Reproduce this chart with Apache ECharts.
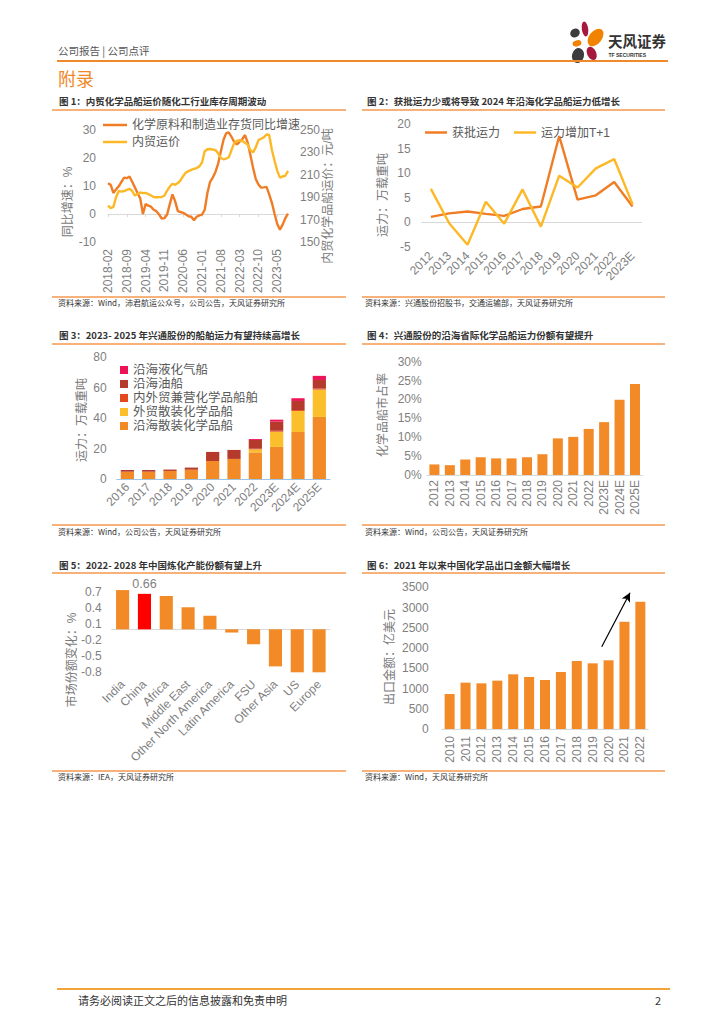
<!DOCTYPE html>
<html><head><meta charset="utf-8">
<script src="https://cdn.jsdelivr.net/npm/echarts@6/dist/echarts.min.js"></script>
<style>
html,body{margin:0;padding:0;background:#fff;}
body{width:724px;height:1024px;position:relative;overflow:hidden;font-family:"Noto Sans CJK SC","Liberation Sans",sans-serif;}
.t{position:absolute;white-space:nowrap;}
.ln{position:absolute;}
.title{font-size:9.5px;font-weight:bold;color:#333;line-height:12px;height:12px;}
.src{font-size:8px;color:#333;line-height:10px;height:10px;}
.chart{position:absolute;}
</style></head><body>

<div class="t" style="left:58px;top:44px;font-size:10.5px;line-height:14px;color:#555;">公司报告 | 公司点评</div>
<svg class="t" style="left:566px;top:14px;" width="104" height="52" viewBox="0 0 104 52">
  <ellipse cx="19" cy="15" rx="3.2" ry="7.5" fill="#A6193C" transform="rotate(-8 19 15)"/>
  <ellipse cx="9" cy="19" rx="5" ry="4.3" fill="#3C3C3C" transform="rotate(-35 9 19)"/>
  <ellipse cx="29.5" cy="23.5" rx="6.3" ry="10" fill="#F08300" transform="rotate(38 29.5 23.5)"/>
  <ellipse cx="11" cy="29.3" rx="4.5" ry="3" fill="#F08300" transform="rotate(-15 11 29.3)"/>
  <ellipse cx="12" cy="41.5" rx="6" ry="7.5" fill="#3C3C3C" transform="rotate(15 12 41.5)"/>
  <ellipse cx="25.7" cy="39.3" rx="4.5" ry="7" fill="#A6193C" transform="rotate(-25 25.7 39.3)"/>
  <text x="42" y="33" font-size="14.5" font-weight="bold" fill="#333" font-family="Noto Sans CJK SC">天风证券</text>
  <text x="42.5" y="43" font-size="5" font-weight="bold" fill="#333" font-family="Liberation Sans">TF SECURITIES</text>
</svg>
<div class="ln" style="left:57px;top:60px;width:611px;height:2px;background:#F0892A;"></div>
<div class="t" style="left:58px;top:68px;font-size:18px;line-height:20px;color:#F0892A;">附录</div>

<div class="t title" style="left:59px;top:95px;">图 1：内贸化学品船运价随化工行业库存周期波动</div>
<div class="t title" style="left:367px;top:95px;">图 2：获批运力少或将导致 2024 年沿海化学品船运力低增长</div>
<div class="ln" style="left:52px;top:109px;width:294px;height:1.5px;background:#F6B27A;"></div>
<div class="ln" style="left:362px;top:109px;width:303px;height:1.5px;background:#F6B27A;"></div>
<div class="ln" style="left:52px;top:296px;width:294px;height:1.5px;background:#F6B27A;"></div>
<div class="ln" style="left:362px;top:296px;width:303px;height:1.5px;background:#F6B27A;"></div>
<div class="t src" style="left:58px;top:298px;">资料来源：Wind，沛君航运公众号，公司公告，天风证券研究所</div>
<div class="t src" style="left:365px;top:298px;">资料来源：兴通股份招股书，交通运输部，天风证券研究所</div>

<div class="t title" style="left:59px;top:329px;">图 3：2023- 2025 年兴通股份的船舶运力有望持续高增长</div>
<div class="t title" style="left:367px;top:329px;">图 4：兴通股份的沿海省际化学品船运力份额有望提升</div>
<div class="ln" style="left:52px;top:343px;width:294px;height:1.5px;background:#F6B27A;"></div>
<div class="ln" style="left:362px;top:343px;width:303px;height:1.5px;background:#F6B27A;"></div>
<div class="ln" style="left:52px;top:524px;width:294px;height:1.5px;background:#F6B27A;"></div>
<div class="ln" style="left:362px;top:524px;width:303px;height:1.5px;background:#F6B27A;"></div>
<div class="t src" style="left:58px;top:527px;">资料来源：Wind，公司公告，天风证券研究所</div>
<div class="t src" style="left:365px;top:527px;">资料来源：Wind，公司公告，天风证券研究所</div>

<div class="t title" style="left:59px;top:559px;">图 5：2022- 2028 年中国炼化产能份额有望上升</div>
<div class="t title" style="left:367px;top:559px;">图 6：2021 年以来中国化学品出口金额大幅增长</div>
<div class="ln" style="left:52px;top:572px;width:294px;height:1.5px;background:#F6B27A;"></div>
<div class="ln" style="left:362px;top:572px;width:303px;height:1.5px;background:#F6B27A;"></div>
<div class="ln" style="left:52px;top:770px;width:294px;height:1.5px;background:#F6B27A;"></div>
<div class="ln" style="left:362px;top:770px;width:303px;height:1.5px;background:#F6B27A;"></div>
<div class="t src" style="left:58px;top:772px;">资料来源：IEA，天风证券研究所</div>
<div class="t src" style="left:365px;top:772px;">资料来源：Wind，天风证券研究所</div>

<div class="ln" style="left:57px;top:988px;width:613px;height:2px;background:#F0A43A;"></div>
<div class="t" style="left:78px;top:994px;font-size:11px;line-height:13px;color:#333;">请务必阅读正文之后的信息披露和免责申明</div>
<div class="t" style="left:655px;top:994px;font-size:11px;line-height:13px;color:#333;">2</div>

<div id="c1" class="chart" style="left:52px;top:110px;width:300px;height:186px;"></div>
<div id="c2" class="chart" style="left:360px;top:110px;width:310px;height:186px;"></div>
<div id="c3" class="chart" style="left:52px;top:344px;width:300px;height:180px;"></div>
<div id="c4" class="chart" style="left:360px;top:344px;width:310px;height:180px;"></div>
<div id="c5" class="chart" style="left:52px;top:573px;width:300px;height:197px;"></div>
<div id="c6" class="chart" style="left:360px;top:573px;width:310px;height:197px;"></div>

<script>
// ---------- data ----------
const months1 = ['2018-02','2018-03','2018-04','2018-05','2018-06','2018-07','2018-08','2018-09','2018-10','2018-11','2018-12',
 '2019-01','2019-02','2019-03','2019-04','2019-05','2019-06','2019-07','2019-08','2019-09','2019-10','2019-11','2019-12',
 '2020-01','2020-02','2020-03','2020-04','2020-05','2020-06','2020-07','2020-08','2020-09','2020-10','2020-11','2020-12',
 '2021-01','2021-02','2021-03','2021-04','2021-05','2021-06','2021-07','2021-08','2021-09','2021-10','2021-11','2021-12',
 '2022-01','2022-02','2022-03','2022-04','2022-05','2022-06','2022-07','2022-08','2022-09','2022-10','2022-11','2022-12',
 '2023-01','2023-02','2023-03','2023-04','2023-05','2023-06','2023-07','2023-08','2023-09'];
const inventoryYoY = [11.0,10.4,7.5,8.8,9.9,11.5,13.0,12.8,13.4,11.5,
 9.5,7.5,5.5,0.0,3.5,3.0,2.6,1.5,1.0,-0.2,
 -1.6,-1.5,-0.2,3.5,7.0,4.5,1.0,0.7,0.4,-0.2,
 -0.8,-1.0,-2.2,-1.0,-0.5,-0.2,1.5,7.5,11.5,13.0,
 15.0,18.0,22.3,26.5,28.9,29.1,27.5,25.7,24.9,25.8,
 26.8,28.2,25.5,21.1,16.5,12.5,10.5,9.4,9.5,9.7,
 7.0,4.0,0.1,-3.6,-5.6,-3.8,-1.5,0.1];
const freightRate = [182.5,180.2,181.4,190.0,195.5,195.0,195.5,196.5,197.5,195.5,
 191.4,193.0,194.2,193.6,193.8,192.7,191.5,190.1,189.9,190.0,
 190.2,191.3,195.8,199.5,202.0,201.0,202.6,205.0,209.0,212.0,
 213.3,214.4,215.2,216.0,217.5,221.0,231.0,232.8,233.0,232.6,
 232.0,229.2,225.0,223.9,224.5,225.7,232.2,238.5,240.5,240.8,
 240.2,238.7,237.0,232.0,230.0,234.5,241.0,242.2,243.4,246.0,
 245.5,232.2,222.5,213.5,207.5,208.5,209.1,213.5];

const years2 = ['2012','2013','2014','2015','2016','2017','2018','2019','2020','2021','2022','2023E'];
const approvedCap = [1.1,1.8,2.2,1.7,1.3,2.7,3.2,17.6,4.6,5.5,8.2,3.2];
const addedCapT1 = [6.8,-0.2,-4.6,4.2,-0.3,6.7,-0.9,9.5,7.1,11.0,12.9,3.7];

const years3 = ['2016','2017','2018','2019','2020','2021','2022','2023E','2024E','2025E'];
const coastalBulk = [4.8,4.8,5.3,6.1,11.8,13.2,17.5,21.1,30.9,40.8];
const foreignBulk = [0,0,0,0,0,0,2.0,10.0,13.8,18.0];
const dualTrade = [0,0,0,0,0,0,0.4,0.6,0.6,0.6];
const coastalOil = [1.1,1.1,0.9,1.4,6.0,5.9,5.8,6.0,6.0,5.7];
const coastalLPG = [0,0,0,0,0,0,0.6,1.3,1.8,2.7];

const years4 = ['2012','2013','2014','2015','2016','2017','2018','2019','2020','2021','2022','2023E','2024E','2025E'];
const marketShare = [2.8,2.6,4.1,4.7,4.4,4.4,4.7,5.5,9.7,10.1,12.2,14.0,19.9,24.1];

const regions5 = ['India','China','Africa','Middle East','Other North America','Latin America','FSU','Other Asia','US','Europe'];
const shareChange = [0.73,0.66,0.62,0.41,0.25,-0.06,-0.28,-0.69,-0.80,-0.80];

const years6 = ['2010','2011','2012','2013','2014','2015','2016','2017','2018','2019','2020','2021','2022'];
const exportValue = [865,1145,1128,1194,1351,1285,1211,1408,1680,1622,1697,2652,3146];
const arrowFrom = [9.57, 2033];
const arrowTo = [11.35, 3366];

// ---------- styles ----------
const FONT = '"Liberation Sans","Noto Sans CJK SC",sans-serif';
const LBL = '#7f7f7f';
const AXL = '#d9d9d9';
const ORANGE = '#F28A27';
function nameText(x, y, text) {
  return {type:'text', x:x, y:y, rotation:Math.PI/2, silent:true,
    style:{text:text, fill:'#7a7a7a', fontSize:12, fontFamily:FONT, align:'center', verticalAlign:'middle'}};
}
function valAxis(o) {
  return Object.assign({type:'value', splitLine:{show:false}, axisLine:{show:false}, axisTick:{show:false},
    axisLabel:{fontSize:12, color:LBL, fontFamily:FONT}}, o);
}
function plain(v) { return String(v); }
function mk(id, opt) {
  const c = echarts.init(document.getElementById(id), null, {renderer:'svg'});
  opt.animation = false;
  opt.textStyle = {fontFamily:FONT};
  c.setOption(opt);
  return c;
}

// ---------- chart 1 ----------
mk('c1', {
  grid:{left:56, top:20, width:180, height:113},
  legend:{orient:'vertical', left:46, top:3, icon:'rect', itemWidth:24, itemHeight:2.5, itemGap:3,
    textStyle:{fontSize:12, color:'#595959', lineHeight:14}, data:['化学原料和制造业存货同比增速','内贸运价']},
  xAxis:[
    {type:'category', data:months1, boundaryGap:false, axisLine:{show:false, onZero:false}, axisTick:{show:false},
      axisLabel:{rotate:90, interval:6, margin:7, fontSize:12, color:LBL}},
    {type:'category', data:months1, boundaryGap:false, position:'bottom',
      axisLine:{onZero:true, lineStyle:{color:AXL}}, axisTick:{interval:6, length:3, lineStyle:{color:AXL}}, axisLabel:{show:false}}
  ],
  yAxis:[
    valAxis({min:-10, max:30, interval:10, axisLabel:{margin:12, fontSize:12, color:LBL}}),
    valAxis({min:150, max:250, interval:20, position:'right', axisLabel:{margin:12, fontSize:12, color:LBL}})
  ],
  series:[
    {name:'化学原料和制造业存货同比增速', type:'line', data:inventoryYoY, yAxisIndex:0, symbol:'none',
      lineStyle:{width:2.4, color:'#F07D26'}, itemStyle:{color:'#F07D26'}},
    {name:'内贸运价', type:'line', data:freightRate, yAxisIndex:1, symbol:'none',
      lineStyle:{width:2.4, color:'#FDB827'}, itemStyle:{color:'#FDB827'}}
  ],
  graphic:[nameText(16, 92, '同比增速：%'), nameText(276, 86, '内贸化学品船运价：元/吨')]
});

// ---------- chart 2 ----------
mk('c2', {
  grid:{left:61.7, top:14.3, width:220, height:122.4},
  legend:{left:60, top:10.5, icon:'rect', itemWidth:22, itemHeight:2.5, itemGap:14,
    textStyle:{fontSize:12, color:'#595959', lineHeight:14}, data:['获批运力','运力增加T+1']},
  xAxis:[
    {type:'category', data:years2, axisLine:{show:false, onZero:false}, axisTick:{show:false},
      axisLabel:{rotate:45, interval:0, margin:7, fontSize:12, color:LBL}},
    {type:'category', data:years2, position:'bottom',
      axisLine:{onZero:true, lineStyle:{color:AXL}}, axisTick:{length:3, lineStyle:{color:AXL}}, axisLabel:{show:false}}
  ],
  yAxis:[valAxis({min:-5, max:20, interval:5, axisLabel:{margin:11, fontSize:12, color:LBL}})],
  series:[
    {name:'获批运力', type:'line', data:approvedCap, symbol:'none', lineStyle:{width:2.4, color:'#F07D26'}, itemStyle:{color:'#F07D26'}},
    {name:'运力增加T+1', type:'line', data:addedCapT1, symbol:'none', lineStyle:{width:2.4, color:'#FDB827'}, itemStyle:{color:'#FDB827'}}
  ],
  graphic:[nameText(23, 85, '运力：万载重吨')]
});

// ---------- chart 3 ----------
const c3Names = ['沿海散装化学品船','外贸散装化学品船','内外贸兼营化学品船舶','沿海油船','沿海液化气船'];
const c3Data = [coastalBulk, foreignBulk, dualTrade, coastalOil, coastalLPG];
const c3Colors = [ORANGE,'#FBBF2C','#E4481E','#B53A2B','#EC1357'];
mk('c3', {
  grid:{left:64.7, top:13.3, width:213.3, height:121.7},
  legend:{orient:'vertical', left:63, top:14, itemWidth:8, itemHeight:8, itemGap:0, icon:'rect',
    textStyle:{fontSize:12.5, color:'#595959', lineHeight:14},
    data:['沿海液化气船','沿海油船','内外贸兼营化学品船舶','外贸散装化学品船','沿海散装化学品船']},
  xAxis:{type:'category', data:years3, axisLine:{lineStyle:{color:'#9DC3E6'}}, axisTick:{show:false},
    axisLabel:{rotate:45, interval:0, margin:6, fontSize:12, color:LBL}},
  yAxis:valAxis({min:0, max:80, interval:20, axisLabel:{margin:10, fontSize:12, color:LBL}}),
  series:c3Names.map((n,i)=>({name:n, type:'bar', stack:'cap', data:c3Data[i], barWidth:'62%',
    itemStyle:{color:c3Colors[i]}})),
  graphic:[nameText(29.7, 76, '运力：万载重吨')]
});

// ---------- chart 4 ----------
mk('c4', {
  grid:{left:66.7, top:17.7, width:216, height:113.3},
  xAxis:{type:'category', data:years4, axisLine:{lineStyle:{color:AXL}}, axisTick:{show:false},
    axisLabel:{rotate:90, interval:0, margin:5, fontSize:12, color:LBL}},
  yAxis:valAxis({min:0, max:30, interval:5, axisLabel:{margin:5, fontSize:12, color:LBL, formatter:'{value}%'}}),
  series:[{type:'bar', data:marketShare, barWidth:'65%', itemStyle:{color:ORANGE}}],
  graphic:[nameText(23.3, 71, '化学品船市占率')]
});

// ---------- chart 5 ----------
mk('c5', {
  grid:{left:59.7, top:16, width:218.3, height:83.3},
  xAxis:[
    {type:'category', data:regions5, axisLine:{show:false, onZero:false}, axisTick:{show:false},
      axisLabel:{rotate:45, interval:0, margin:10, fontSize:12, color:LBL}},
    {type:'category', data:regions5, position:'bottom',
      axisLine:{onZero:true, lineStyle:{color:AXL}}, axisTick:{length:3, inside:true, lineStyle:{color:AXL}}, axisLabel:{show:false}}
  ],
  yAxis:valAxis({min:-0.8, max:0.75, interval:0.3, axisLabel:{margin:10, fontSize:12, color:LBL, showMaxLabel:false}}),
  series:[{type:'bar', barWidth:'60%', itemStyle:{color:ORANGE},
    data:shareChange.map((v,i)=> regions5[i]==='China'
      ? {value:v, itemStyle:{color:'#FF0000'}, label:{show:true, position:'top', distance:4, fontSize:12.5, color:LBL}}
      : v)}],
  graphic:[nameText(19.7, 87, '市场份额变化：%')]
});

// ---------- chart 6 ----------
mk('c6', {
  grid:{left:81.7, top:14.3, width:206.6, height:141.7},
  xAxis:[
    {type:'category', data:years6, axisLine:{lineStyle:{color:AXL}}, axisTick:{show:false},
      axisLabel:{rotate:90, interval:0, margin:7, fontSize:12, color:LBL}},
    {type:'value', min:-0.5, max:12.5, show:false}
  ],
  yAxis:valAxis({min:0, max:3500, interval:500, axisLabel:{margin:13, fontSize:12, color:LBL, formatter:plain}}),
  series:[
    {type:'bar', data:exportValue, barWidth:'63%', itemStyle:{color:ORANGE}},
    {type:'line', xAxisIndex:1, data:[], markLine:{silent:true, symbol:['none','arrow'], symbolSize:[7,9],
      label:{show:false}, lineStyle:{color:'#000', width:1.2, type:'solid'},
      data:[[{coord:arrowFrom},{coord:arrowTo}]]}}
  ],
  graphic:[nameText(30, 84, '出口金额：亿美元')]
});
</script>
</body></html>
